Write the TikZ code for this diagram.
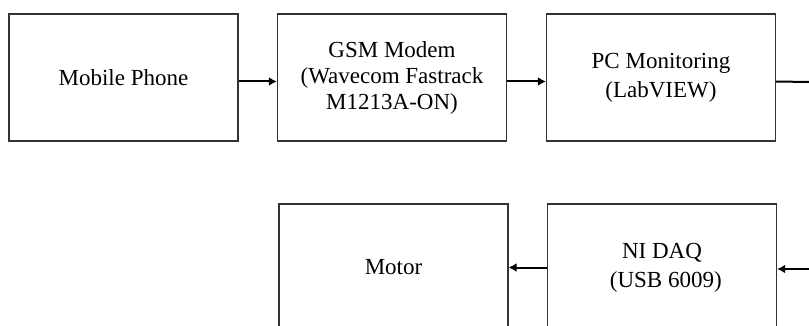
\documentclass[tikz,border=0pt]{standalone}
\usepackage{fontspec}
\setmainfont{Liberation Serif}
\usetikzlibrary{arrows.meta}
\definecolor{edgegray}{HTML}{333333}
\tikzset{
  blockbox/.style={
    draw=edgegray,
    fill=white,
    line width=0.6pt,
    minimum width=114.5pt,
    minimum height=63.5pt,
    align=center,
    font=\fontsize{11.5}{13}\selectfont
  },
  wideline/.style={font=\fontsize{11.5}{14.5}\selectfont},
  linkar/.style={-{Latex[length=4pt,width=4.4pt]},line width=1pt,draw=black},
  linkline/.style={line width=1pt,draw=black}
}
\begin{document}
\begin{tikzpicture}[x=0.5pt,y=-0.5pt]
  \useasboundingbox[fill=white] (0,0) rectangle (809,326);

  \node[blockbox] (mobile) at (123.5, 77.5) {Mobile Phone};
  \node[blockbox] (gsm)    at (392,   77.5) {GSM Modem\\(Wavecom Fastrack\\M1213A-ON)};
  \node[blockbox,wideline] (pc)  at (661, 77.5) {PC Monitoring\\(LabVIEW)};
  \node[blockbox]          (motor) at (393.5, 267.5) {Motor};
  \node[blockbox,wideline] (daq) at (662, 267.5) {NI DAQ\\\phantom{(}(USB 6009)};

  \coordinate (pcout) at (809, 82);
  \coordinate (daqin) at (809, 269);

  \draw[linkar] ([yshift=-2pt]mobile.east) -- ([yshift=-2pt]gsm.west);
  \draw[linkar] ([yshift=-2pt]gsm.east) -- ([yshift=-2pt]pc.west);
  \draw[linkline] ([yshift=-2pt]pc.east) -- (pcout);
  \draw[linkar] (daqin) -- (daq.east |- daqin);
  \draw[linkar] (daq.west) -- (motor.east);
\end{tikzpicture}
\end{document}
